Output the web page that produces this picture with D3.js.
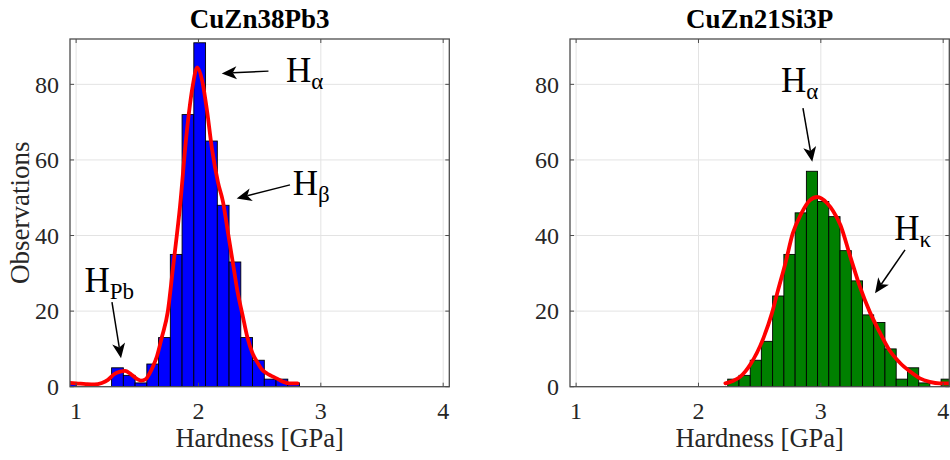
<!DOCTYPE html>
<html><head><meta charset="utf-8">
<script src="https://cdn.jsdelivr.net/npm/d3@7"></script>
<style>
body{margin:0;background:#fff}
text{font-family:"Liberation Serif","Times New Roman",serif}
</style>
</head><body>
<svg id="c" width="950" height="460"></svg>
<script>
// ---------- data ----------
const xTicks = [1, 2, 3, 4];
const yTicks = [0, 20, 40, 60, 80];
const xDomain = [0.95, 4.05];
const yDomain = [0, 92];

const leftTitle = "CuZn38Pb3";
const rightTitle = "CuZn21Si3P";
const xLabel = "Hardness [GPa]";
const yLabel = "Observations";

const leftEdges = [0.906, 1.002, 1.098, 1.194, 1.290, 1.386, 1.482, 1.578, 1.674, 1.770, 1.866,
                   1.962, 2.058, 2.154, 2.250, 2.346, 2.442, 2.538, 2.634, 2.730, 2.826];
const leftCounts = [1, 0, 0, 0, 5, 3, 1, 6, 13, 35, 72, 91, 65, 48, 33, 13, 7, 2, 2, 1];
const leftCurveX = [0.95, 1.00, 1.08, 1.15, 1.21, 1.26, 1.31, 1.36, 1.40, 1.46, 1.50, 1.53, 1.57, 1.60, 1.63,
                    1.66, 1.70, 1.75, 1.79, 1.85, 1.90, 1.95, 1.99, 2.03, 2.07, 2.11, 2.16, 2.20, 2.24, 2.28,
                    2.32, 2.36, 2.40, 2.44, 2.48, 2.52, 2.56, 2.60, 2.65, 2.70, 2.74, 2.81];
const leftCurveY = [1.0, 0.9, 0.7, 0.6, 1.0, 1.8, 3.3, 4.0, 4.2, 3.0, 2.0, 1.6, 2.0, 3.5, 5.5,
                    8.0, 13, 20, 31, 48, 66, 79, 84.5, 81, 73, 63, 54, 49, 41, 33,
                    25, 19, 13, 9, 6.5, 4.5, 3.5, 2.8, 2.0, 1.2, 0.9, 0.9];

const rightEdges = [2.239, 2.331, 2.423, 2.514, 2.606, 2.698, 2.790, 2.882, 2.973, 3.065, 3.157,
                    3.249, 3.341, 3.432, 3.524, 3.616, 3.708, 3.800, 3.891, 3.983, 4.075];
const rightCounts = [2, 3, 7, 12, 24, 35, 46, 57, 49, 45, 36, 28, 19, 17, 10, 2, 5, 1, 0, 2];
const rightCurveX = [2.22, 2.28, 2.34, 2.43, 2.53, 2.60, 2.65, 2.71, 2.77, 2.84, 2.91, 2.97, 3.05, 3.10,
                     3.16, 3.24, 3.32, 3.40, 3.48, 3.56, 3.65, 3.73, 3.81, 3.89, 3.97, 4.05];
const rightCurveY = [0.9, 1.5, 2.6, 6.2, 12.8, 19.4, 25.5, 32.6, 40.5, 45.8, 49.3, 50.2, 48.6, 46.5,
                     42.8, 34.5, 26.4, 19.8, 14.5, 9.7, 6.2, 4.0, 2.2, 1.3, 0.9, 0.9];

// annotations in data units: label, subscript, text x/y (baseline), arrow from, arrow to
const leftNotes = [
  {main: "H", sub: "α", tx: 2.715, ty: 80.7, fx: 2.572, fy: 83.5, ax: 2.190, ay: 82.9},
  {main: "H", sub: "β", tx: 2.770, ty: 50.7, fx: 2.748, fy: 53.4, ax: 2.312, ay: 49.8},
  {main: "H", sub: "Pb", tx: 1.068, ty: 25.1, fx: 1.293, fy: 22.4, ax: 1.367, ay: 7.5}
];
const rightNotes = [
  {main: "H", sub: "α", tx: 2.675, ty: 78.0, fx: 2.854, fy: 73.7, ax: 2.930, ay: 59.5},
  {main: "H", sub: "κ", tx: 3.600, ty: 38.8, fx: 3.688, fy: 36.2, ax: 3.443, ay: 24.7}
];

// ---------- drawing ----------
const svg = d3.select("#c");
const axisColor = "#4d4d4d";
const gridColor = "#e3e3e3";

function drawPanel(p) {
  const x = d3.scaleLinear().domain(xDomain).range([p.left, p.right]);
  const y = d3.scaleLinear().domain(yDomain).range([p.bottom, p.top]);
  const g = svg.append("g");
  const clipId = "clip" + p.id;
  svg.append("clipPath").attr("id", clipId).append("rect")
    .attr("x", p.left).attr("y", p.top).attr("width", p.right - p.left).attr("height", p.bottom - p.top);

  // grid
  g.append("g").selectAll("line").data(xTicks).join("line")
    .attr("x1", d => x(d)).attr("x2", d => x(d)).attr("y1", p.top).attr("y2", p.bottom)
    .attr("stroke", gridColor).attr("stroke-width", 1);
  g.append("g").selectAll("line").data(yTicks).join("line")
    .attr("y1", d => y(d)).attr("y2", d => y(d)).attr("x1", p.left).attr("x2", p.right)
    .attr("stroke", gridColor).attr("stroke-width", 1);

  // bars
  const bars = p.counts.map((c, i) => ({x0: p.edges[i], x1: p.edges[i + 1], c}));
  g.append("g").attr("clip-path", `url(#${clipId})`).selectAll("rect").data(bars.filter(b => b.c > 0)).join("rect")
    .attr("x", d => x(d.x0)).attr("width", d => x(d.x1) - x(d.x0))
    .attr("y", d => y(d.c)).attr("height", d => y(0) - y(d.c))
    .attr("fill", p.color).attr("stroke", "#000").attr("stroke-width", 0.9);

  // curve
  const pts = p.cx.map((v, i) => [v, p.cy[i]]);
  g.append("path").attr("clip-path", `url(#${clipId})`).datum(pts)
    .attr("d", d3.line().x(d => x(d[0])).y(d => y(d[1])).curve(d3.curveMonotoneX))
    .attr("fill", "none").attr("stroke", "#ff0000").attr("stroke-width", 3.8)
    .attr("stroke-linejoin", "round").attr("stroke-linecap", "round");

  // axes (box with inward ticks)
  const ax = g.append("g");
  ax.append("rect").attr("x", p.left).attr("y", p.top).attr("width", p.right - p.left).attr("height", p.bottom - p.top)
    .attr("fill", "none").attr("stroke", axisColor).attr("stroke-width", 1.3);
  const tl = 4;
  xTicks.forEach(t => {
    ax.append("line").attr("x1", x(t)).attr("x2", x(t)).attr("y1", p.bottom).attr("y2", p.bottom - tl).attr("stroke", axisColor);
    ax.append("line").attr("x1", x(t)).attr("x2", x(t)).attr("y1", p.top).attr("y2", p.top + tl).attr("stroke", axisColor);
  });
  yTicks.forEach(t => {
    ax.append("line").attr("y1", y(t)).attr("y2", y(t)).attr("x1", p.left).attr("x2", p.left + tl).attr("stroke", axisColor);
    ax.append("line").attr("y1", y(t)).attr("y2", y(t)).attr("x1", p.right).attr("x2", p.right - tl).attr("stroke", axisColor);
  });

  // tick labels
  g.append("g").selectAll("text").data(xTicks).join("text")
    .attr("x", d => x(d)).attr("y", p.bottom + 32).attr("text-anchor", "middle")
    .attr("font-size", 24).attr("fill", "#262626").text(d => d);
  g.append("g").selectAll("text").data(yTicks).join("text")
    .attr("x", p.left - 11).attr("y", d => y(d)).attr("dy", "0.34em").attr("text-anchor", "end")
    .attr("font-size", 24).attr("fill", "#262626").text(d => d);

  // axis labels & title
  g.append("text").attr("x", (p.left + p.right) / 2).attr("y", 447).attr("text-anchor", "middle")
    .attr("font-size", 26.5).attr("fill", "#262626").text(xLabel);
  if (p.ylabel) {
    g.append("text").attr("transform", `translate(29,${(p.top + p.bottom) / 2}) rotate(-90)`)
      .attr("text-anchor", "middle").attr("font-size", 27).attr("fill", "#262626").text(yLabel);
  }
  g.append("text").attr("x", (p.left + p.right) / 2).attr("y", 28).attr("text-anchor", "middle")
    .attr("font-size", 27).attr("font-weight", "bold").attr("fill", "#000").text(p.title);

  // annotations
  p.notes.forEach(n => {
    const t = g.append("text").attr("x", x(n.tx)).attr("y", y(n.ty)).attr("font-size", 35).attr("fill", "#000");
    t.append("tspan").text(n.main);
    t.append("tspan").attr("font-size", 23).attr("dy", 7).text(n.sub);
    const x1 = x(n.fx), y1 = y(n.fy), x2 = x(n.ax), y2 = y(n.ay);
    const ang = Math.atan2(y2 - y1, x2 - x1);
    const hl = 15, hw = 6.5, back = 4;
    const bx = x2 - hl * Math.cos(ang), by = y2 - hl * Math.sin(ang);
    const nx = -Math.sin(ang), ny = Math.cos(ang);
    const mx = x2 - (hl - back) * Math.cos(ang), my = y2 - (hl - back) * Math.sin(ang);
    g.append("line").attr("x1", x1).attr("y1", y1).attr("x2", mx).attr("y2", my)
      .attr("stroke", "#000").attr("stroke-width", 1.5);
    g.append("path").attr("d", `M${x2},${y2}L${bx + nx * hw},${by + ny * hw}L${mx},${my}L${bx - nx * hw},${by - ny * hw}Z`)
      .attr("fill", "#000");
  });
}

drawPanel({id: "L", left: 70, right: 449.3, top: 39, bottom: 386.7, edges: leftEdges, counts: leftCounts,
  cx: leftCurveX, cy: leftCurveY, color: "#0000ff", title: leftTitle, ylabel: true, notes: leftNotes});
drawPanel({id: "R", left: 570, right: 949.3, top: 39, bottom: 386.7, edges: rightEdges, counts: rightCounts,
  cx: rightCurveX, cy: rightCurveY, color: "#008000", title: rightTitle, ylabel: false, notes: rightNotes});
</script>
</body></html>
